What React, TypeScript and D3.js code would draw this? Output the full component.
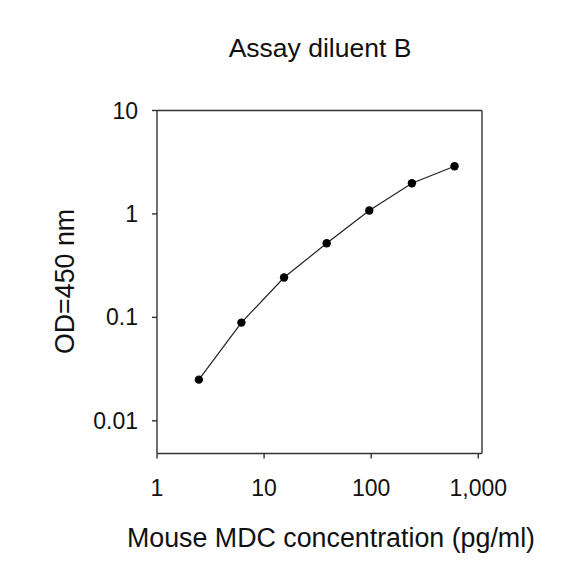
import * as d3 from 'd3';

// standard curve, 2.5-fold dilutions
const concentrations = [2.46, 6.14, 15.36, 38.4, 96, 240, 600];
const odValues = [0.025, 0.089, 0.243, 0.52, 1.08, 1.98, 2.89];

const xTicks = [1, 10, 100, 1000];
const xTickLabels = ['1', '10', '100', '1,000'];
const yTicks = [0.01, 0.1, 1, 10];
const yTickLabels = ['0.01', '0.1', '1', '10'];

const width = 584;
const height = 584;
const left = 157;
const right = 482;
const top = 110.5;
const bottom = 453.5;
const font = 'Arial, "Liberation Sans", sans-serif';

export default function App() {
	const x = d3.scaleLog().domain([1, 1083]).range([left, right]);
	const y = d3.scaleLog().domain([0.00483, 10]).range([bottom, top]);

	const line = d3
		.line<number>()
		.x((_, i) => x(concentrations[i]))
		.y((d) => y(d));

	return (
		<svg
			width={width}
			height={height}
			style={{ position: 'absolute', left: 0, top: 0, background: '#fff' }}
			fontFamily={font}
		>
			<rect width={width} height={height} fill="#fff" />
			<text x={320} y={57} textAnchor="middle" fontSize={26.5} fill="#111">
				Assay diluent B
			</text>

			{/* frame */}
			<g stroke="#333" strokeWidth={1.4} fill="none">
				<line x1={left} x2={left} y1={top} y2={bottom} />
				<line x1={left} x2={right} y1={bottom} y2={bottom} />
				<line x1={left} x2={right} y1={top} y2={top} />
				<line x1={right} x2={right} y1={top} y2={bottom} />
			</g>

			{/* y axis */}
			{yTicks.map((t, i) => (
				<g key={t}>
					<line x1={left - 5} x2={left} y1={y(t)} y2={y(t)} stroke="#333" strokeWidth={1.4} />
					<text x={left - 19} y={y(t)} dy="0.35em" textAnchor="end" fontSize={23} fill="#111">
						{yTickLabels[i]}
					</text>
				</g>
			))}

			{/* x axis */}
			{xTicks.map((t, i) => (
				<g key={t}>
					<line x1={x(t)} x2={x(t)} y1={bottom} y2={bottom + 5} stroke="#333" strokeWidth={1.4} />
					<text x={x(t)} y={496} textAnchor="middle" fontSize={23} fill="#111">
						{xTickLabels[i]}
					</text>
				</g>
			))}

			<path d={line(odValues) || ''} fill="none" stroke="#222" strokeWidth={1.2} />
			{odValues.map((v, i) => (
				<circle key={i} cx={x(concentrations[i])} cy={y(v)} r={4.2} fill="#000" />
			))}

			<text x={331} y={547} textAnchor="middle" fontSize={26.8} fill="#111">
				Mouse MDC concentration (pg/ml)
			</text>
			<text
				transform={`translate(74,281.5) rotate(-90)`}
				textAnchor="middle"
				fontSize={26.8}
				fill="#111"
			>
				OD=450 nm
			</text>
		</svg>
	);
}
